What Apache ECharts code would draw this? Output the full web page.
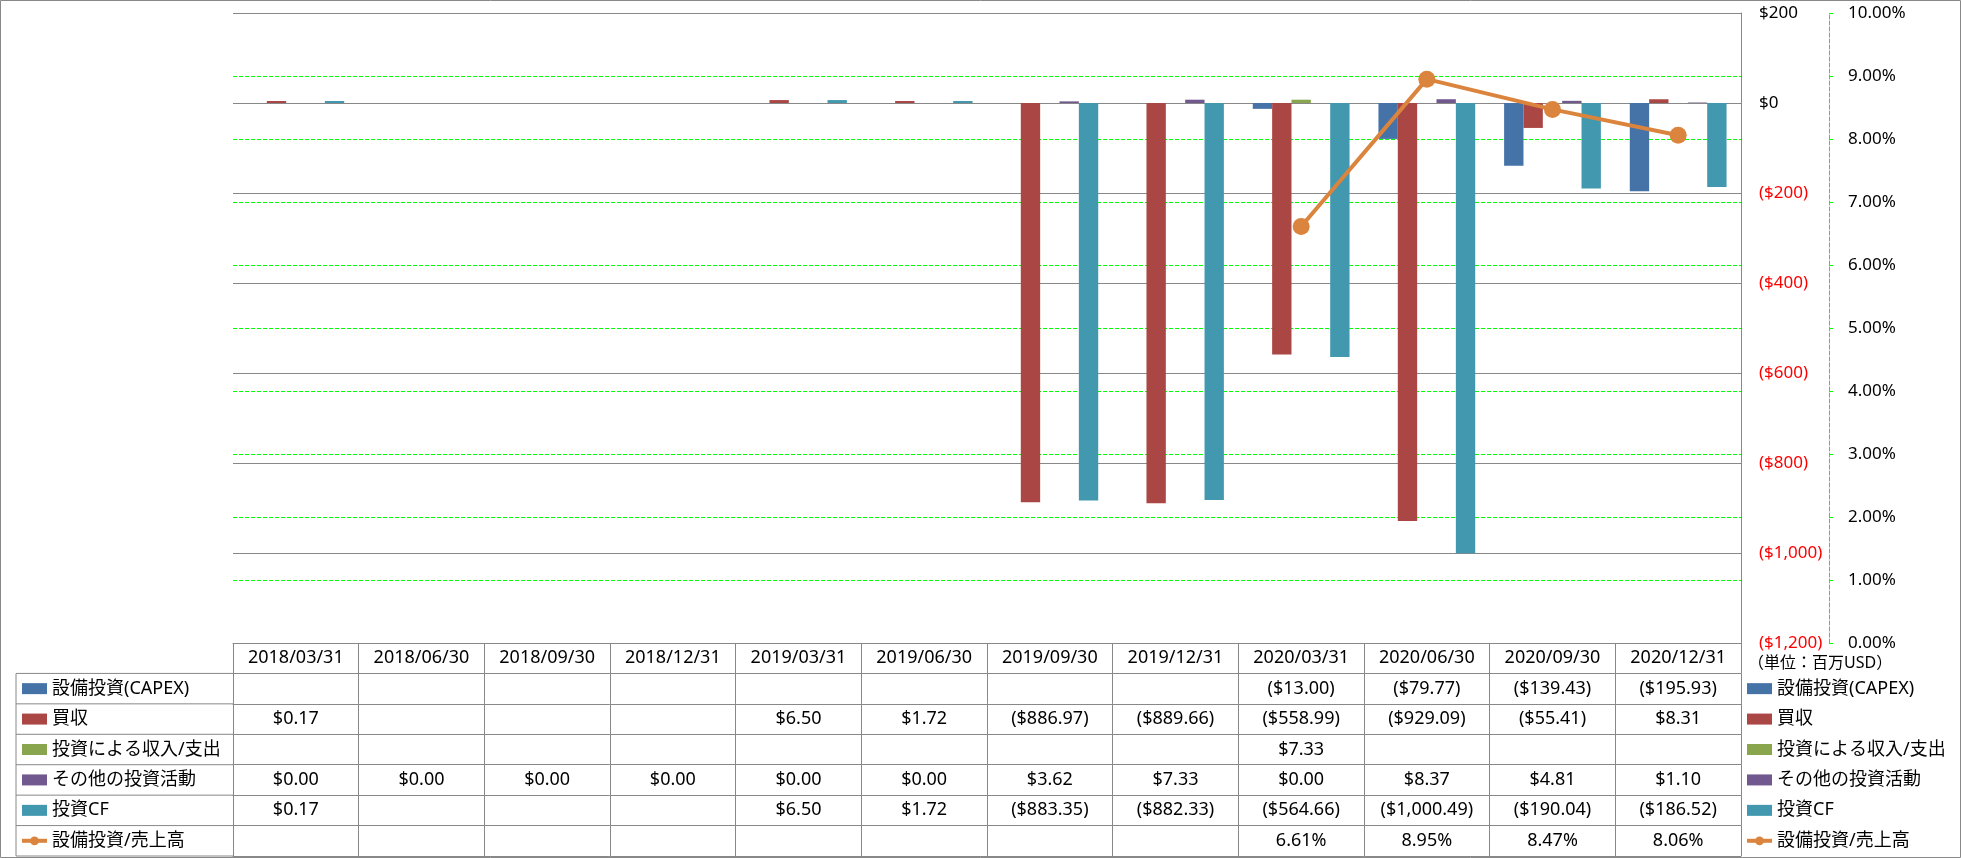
<!DOCTYPE html>
<html>
<head>
<meta charset="utf-8">
<script src="https://cdn.jsdelivr.net/npm/echarts@6/dist/echarts.min.js"></script>
<style>
html,body{margin:0;padding:0;background:#fff;}
#chart{width:1961px;height:858px;}
</style>
</head>
<body>
<div id="chart"></div>
<script>
// ---- data ----
const categories = ['2018/03/31','2018/06/30','2018/09/30','2018/12/31','2019/03/31','2019/06/30','2019/09/30','2019/12/31','2020/03/31','2020/06/30','2020/09/30','2020/12/31'];
const seriesNames = ['設備投資(CAPEX)','買収','投資による収入/支出','その他の投資活動','投資CF','設備投資/売上高'];
const capex       = [null,null,null,null,null,null,null,null,-13.00,-79.77,-139.43,-195.93];
const acquisition = [0.17,null,null,null,6.50,1.72,-886.97,-889.66,-558.99,-929.09,-55.41,8.31];
const investInOut = [null,null,null,null,null,null,null,null,7.33,null,null,null];
const otherInvest = [0.00,0.00,0.00,0.00,0.00,0.00,3.62,7.33,0.00,8.37,4.81,1.10];
const investCF    = [0.17,null,null,null,6.50,1.72,-883.35,-882.33,-564.66,-1000.49,-190.04,-186.52];
const capexRatio  = [null,null,null,null,null,null,null,null,6.61,8.95,8.47,8.06];
const unitLabel = '（単位：百万USD）';

// ---- style ----
const colors = ['#4572A7','#AA4643','#89A54E','#71588F','#4198AF','#DB843D'];
const FONT = '"Noto Sans", "Noto Sans CJK JP", sans-serif';
const GRAY = '#888888';
const GREEN = '#00FF00';
const gridLeft = 233, gridTop = 13, gridWidth = 1508, gridHeight = 630;
const rowH = (856 - (gridTop + gridHeight)) / 7;

function money(v, dec) {
  const a = Math.abs(v).toLocaleString('en-US', {minimumFractionDigits: dec, maximumFractionDigits: dec});
  return v < 0 ? '($' + a + ')' : '$' + a;
}
function fmtMoney(v) { return v == null ? '' : money(v, 2); }
function fmtPct(v) { return v == null ? '' : v.toFixed(2) + '%'; }

const rows = [
  {data: capex, fmt: fmtMoney},
  {data: acquisition, fmt: fmtMoney},
  {data: investInOut, fmt: fmtMoney},
  {data: otherInvest, fmt: fmtMoney},
  {data: investCF, fmt: fmtMoney},
  {data: capexRatio, fmt: fmtPct}
];

function tableAxis(offset, formatter, showLabel, showTick) {
  return {
    type: 'category', data: categories, gridIndex: 0, position: 'bottom', offset: offset,
    axisLine: {show: true, onZero: false, lineStyle: {color: GRAY, width: 1}},
    axisTick: {show: showTick, interval: 0, length: rowH, alignWithLabel: false, lineStyle: {color: GRAY, width: 1}},
    axisLabel: {show: showLabel, interval: 0, margin: rowH / 2, verticalAlign: 'middle',
      fontSize: 18, color: '#000', fontFamily: FONT, formatter: formatter},
    splitLine: {show: false}
  };
}

const xAxes = [tableAxis(0, null, true, true)];
rows.forEach((r, i) => {
  xAxes.push(tableAxis((i + 1) * rowH, (v, idx) => r.fmt(r.data[idx]), true, true));
});
xAxes.push(tableAxis(7 * rowH, null, false, false));

const barSeriesData = [capex, acquisition, investInOut, otherInvest, investCF];
const series = barSeriesData.map((d, i) => ({
  name: seriesNames[i], type: 'bar', xAxisIndex: 0, yAxisIndex: 0, data: d,
  barGap: '0%', barCategoryGap: '23%',
  barMinHeight: (i === 1 || i === 4) ? 2 : 0,
  itemStyle: {color: colors[i]}
}));
series.push({
  name: seriesNames[5], type: 'line', xAxisIndex: 0, yAxisIndex: 1, data: capexRatio,
  symbol: 'circle', symbolSize: 17, z: 5,
  lineStyle: {color: colors[5], width: 4},
  itemStyle: {color: colors[5]}
});

const legendData = seriesNames.map((n, i) => i < 5 ? {name: n, icon: 'rect'} : {name: n, lineStyle: {width: 4}});
function legendAt(left) {
  return {
    orient: 'vertical', left: left, top: gridTop + gridHeight + rowH, padding: 0, itemGap: 0,
    itemWidth: 25, itemHeight: 11, selectedMode: false, data: legendData,
    textStyle: {fontSize: 18, color: '#000', fontFamily: FONT, lineHeight: rowH}
  };
}

// left column table lines
const tableTop = gridTop + gridHeight;
const graphics = [
  {type: 'rect', shape: {x: 0.5, y: 0.5, width: 1960, height: 857}, style: {fill: 'none', stroke: GRAY, lineWidth: 1}, silent: true},
  {type: 'line', shape: {x1: 16, y1: tableTop + rowH, x2: 16, y2: tableTop + 7 * rowH}, style: {stroke: GRAY, lineWidth: 1}, silent: true},
  {type: 'text', left: 1748, top: 655, style: {text: unitLabel, fontSize: 16, fill: '#000', fontFamily: FONT}, silent: true}
];
for (let k = 1; k <= 7; k++) {
  graphics.push({type: 'line', shape: {x1: 16, y1: tableTop + k * rowH, x2: gridLeft, y2: tableTop + k * rowH},
    style: {stroke: GRAY, lineWidth: 1}, silent: true});
}

const chart = echarts.init(document.getElementById('chart'), null, {renderer: 'canvas'});
chart.setOption({
  animation: false,
  backgroundColor: '#fff',
  textStyle: {fontFamily: FONT},
  grid: {left: gridLeft, top: gridTop, width: gridWidth, height: gridHeight, containLabel: false},
  legend: [legendAt(20), legendAt(1745)],
  xAxis: xAxes,
  yAxis: [
    {
      type: 'value', position: 'right', min: -1200, max: 200, interval: 200,
      axisLine: {show: true, lineStyle: {color: GRAY}},
      axisTick: {show: false},
      splitLine: {show: true, lineStyle: {color: GRAY, width: 1}},
      axisLabel: {margin: 18, fontSize: 17, fontFamily: FONT,
        formatter: v => money(v, 0),
        color: v => (v < 0 ? '#FF0000' : '#000000')}
    },
    {
      type: 'value', position: 'right', offset: 88, min: 0, max: 10, interval: 1,
      axisLine: {show: true, lineStyle: {color: GREEN, type: [4, 2]}},
      axisTick: {show: true, length: 4, lineStyle: {color: GREEN}},
      splitLine: {show: true, showMinLine: false, showMaxLine: false, lineStyle: {color: GREEN, type: [4, 2], width: 1}},
      axisLabel: {margin: 19, fontSize: 17, color: '#000', fontFamily: FONT, formatter: v => v.toFixed(2) + '%'}
    }
  ],
  series: series,
  graphic: graphics
});
</script>
</body>
</html>
